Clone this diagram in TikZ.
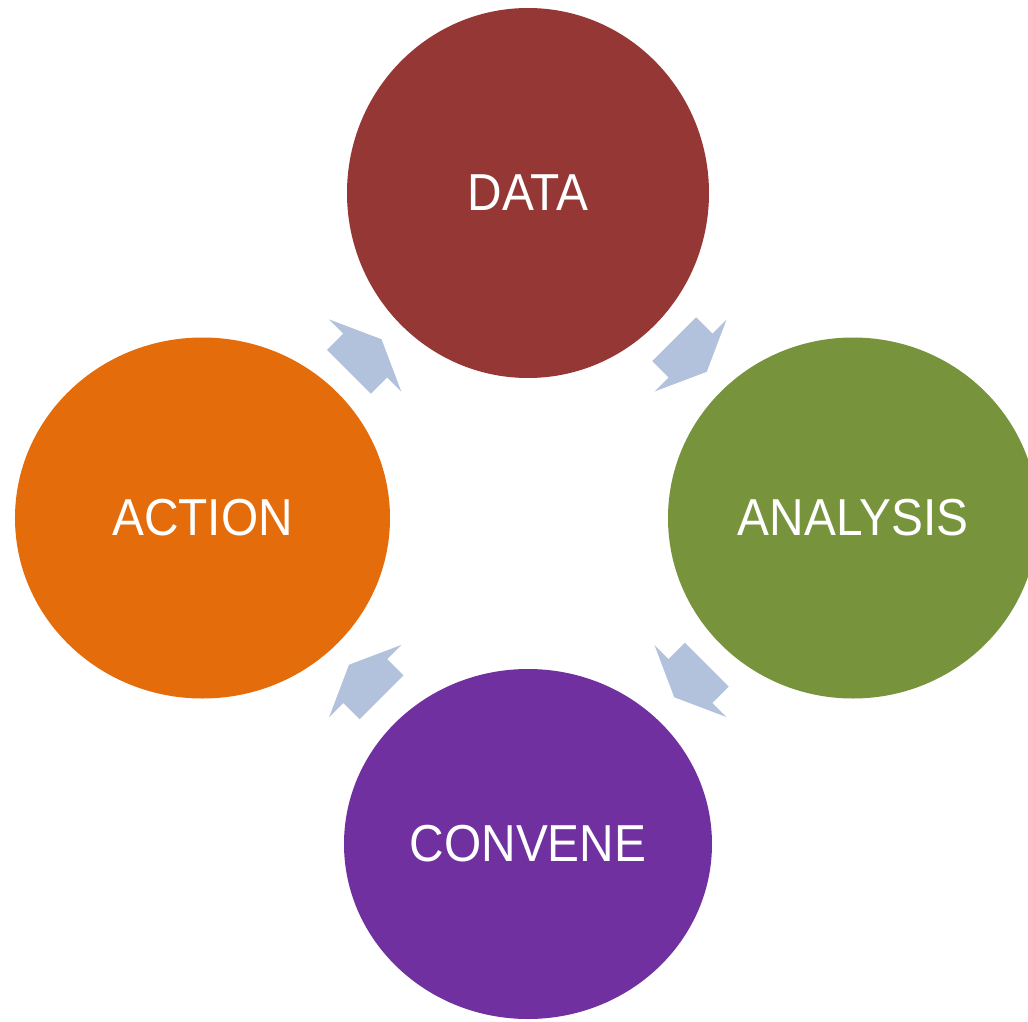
\documentclass[tikz,border=0pt]{standalone}
\usepackage{fontspec}
\newfontfamily\stagefont[FakeStretch=0.92]{Liberation Sans}
\usetikzlibrary{shapes.geometric,calc}

\definecolor{dataRed}{HTML}{953735}
\definecolor{analysisGreen}{HTML}{77933C}
\definecolor{conveneViolet}{HTML}{7030A0}
\definecolor{actionOrange}{HTML}{E46C0A}
\definecolor{arrowBlue}{RGB}{179,194,220}

\begin{document}
\begin{tikzpicture}[x=1pt, y=1pt,
		stage/.style={ellipse, inner sep=0pt, text=white, font=\stagefont\fontsize{52}{62}\selectfont},
		cyclearrow/.style={fill=arrowBlue}]
		\useasboundingbox (-528,-503) rectangle (500,518);
		% the four stages of the cycle
		\node[stage, fill=dataRed, minimum width=362pt, minimum height=370pt] (data) at (0,325) {DATA};
		\node[stage, fill=analysisGreen, minimum width=370pt, minimum height=361pt] (analysis) at (325,0) {ANALYSIS};
		\node[stage, fill=conveneViolet, minimum width=368pt, minimum height=350pt] (convene) at (0,-326) {CONVENE};
		\node[stage, fill=actionOrange, minimum width=375pt, minimum height=361pt] (action) at (-325.5,0) {ACTION};
		% arrows between neighbouring stages
		\foreach \from/\to/\ang in {data/analysis/-45, analysis/convene/-135, convene/action/135, action/data/45}
		\fill[cyclearrow, shift={($(\from)!0.5!(\to)$)}, rotate=\ang] (-23,31) -- (0,31) -- (0,51) -- (23,0) -- (0,-51) -- (0,-31) -- (-23,-31) -- cycle;
\end{tikzpicture}
\end{document}
